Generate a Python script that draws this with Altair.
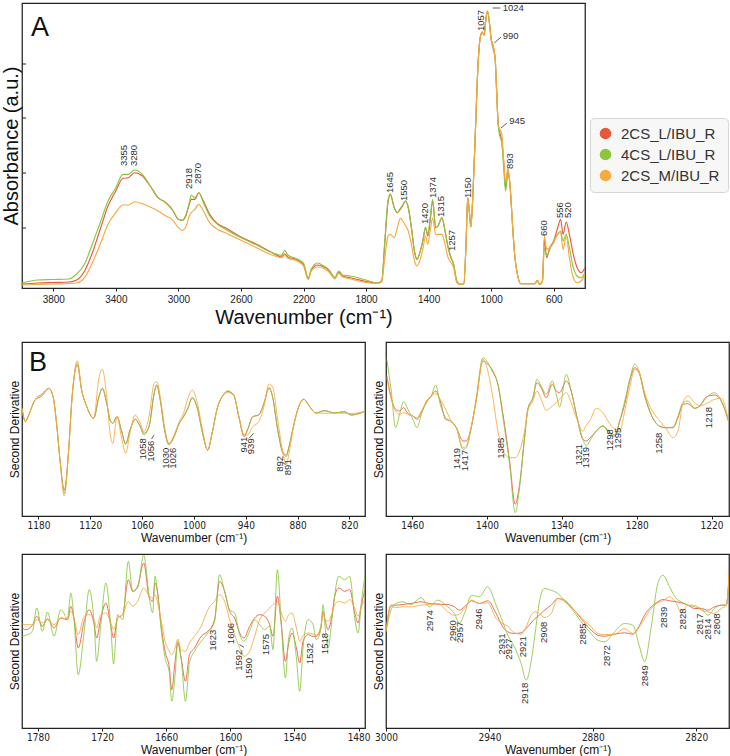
import altair as alt
import pandas as pd

SAMPLES = ["2CS_L/IBU_R", "4CS_L/IBU_R", "2CS_M/IBU_R"]
COLORS = ["#E9573B", "#8CC63F", "#F8A93F"]
FONT = "Liberation Sans, Arial, sans-serif"
NARROW = "Liberation Sans Narrow, Arial Narrow, DejaVu Sans Condensed, sans-serif"
X_TITLE = "Wavenumber (cm\u207b\u00b9)"

# ---------------- Panel A : absorbance spectra ----------------
a_wn = [4000, 3900, 3800, 3700, 3650, 3600, 3550, 3500, 3450, 3400,
        3355, 3320, 3280, 3230, 3180, 3130, 3080, 3040, 3000, 2975,
        2950, 2930, 2918, 2895, 2870, 2840, 2800, 2750, 2700, 2600,
        2500, 2400, 2340, 2320, 2300, 2250, 2200, 2170, 2150, 2110,
        2070, 2040, 2010, 2000, 1975, 1950, 1900, 1800, 1730, 1700,
        1680, 1660, 1645, 1620, 1600, 1580, 1565, 1550, 1530, 1510,
        1490, 1475, 1450, 1435, 1420, 1405, 1390, 1374, 1355, 1340,
        1315, 1295, 1275, 1257, 1240, 1220, 1200, 1175, 1160, 1150,
        1140, 1130, 1115, 1100, 1085, 1070, 1057, 1045, 1035, 1024,
        1010, 1000, 990, 975, 965, 955, 945, 932, 920, 908,
        893, 880, 865, 850, 830, 810, 720, 705, 690, 672,
        660, 645, 625, 600, 575, 556, 540, 520, 500, 475,
        450, 425, 400]
a_2csl = [1, 2, 2.5, 3, 5, 14, 32.3, 55.7, 79, 94,
          106.7, 107.3, 112.3, 109, 99, 87.3, 82.3, 75.7, 65.7, 64.7,
          70, 81, 85.7, 85.7, 92.3, 84, 70.7, 61.3, 57.3, 48,
          40.7, 32.3, 28, 31.3, 28, 25.7, 20.5, 6, 15, 20,
          18, 15, 8.5, 6.8, 13, 9, 7.3, 3.5, 2, 4,
          42.5, 82.3, 90.7, 77.3, 72.3, 76.7, 80, 84, 77.3, 57.3,
          33, 25.7, 35.7, 45.7, 57.3, 49, 64, 84, 57.3, 59,
          67.3, 54, 37.3, 27.3, 20.7, 4, 0.7, 1.3, 44, 87.3,
          74, 58, 97.3, 157.3, 217.3, 247.3, 253, 250, 264, 274,
          260.7, 245.7, 240.7, 227.3, 194, 160.7, 152.3, 144, 124, 97.3,
          115.7, 100.7, 64, 30.7, 9, 1.3, 1.3, 4.7, 0.7, 4,
          45.7, 27.3, 37.3, 44, 57.3, 65.7, 50.7, 63, 50.7, 30.7,
          17.3, 12.3, 17.3]
a_4csl = [2, 5, 5.5, 6, 11, 21, 41, 62.3, 84, 97.3,
          110.7, 110.7, 115, 110.7, 99, 87.3, 82.3, 75.7, 65.7, 64.7,
          70.7, 82.3, 90, 87.3, 92.3, 82.3, 69, 60.7, 55.7, 47.3,
          40, 32.3, 29.7, 34.7, 30, 26.7, 22, 7, 16, 22,
          19, 15.7, 9, 7.3, 14, 10, 9, 5, 2, 4,
          44, 84, 91.3, 77.3, 72.3, 75.7, 79, 84, 77.3, 57.3,
          34, 25.7, 35.7, 45.7, 58, 50.7, 67.3, 85.7, 57.3, 59,
          67.3, 54, 37.3, 28, 20.7, 4, 0.7, 1.3, 44, 87.3,
          74, 58, 97.3, 157.3, 217.3, 247.3, 252, 250, 264, 274,
          260.7, 245.7, 237.3, 227.3, 194, 160.7, 149, 142, 117, 94,
          110.7, 100.7, 64, 30.7, 9, 1.3, 1.3, 4.7, 0.7, 4,
          37.3, 29, 35.7, 44, 50.7, 54, 44, 50.7, 37.3, 17.3,
          9, 7.3, 12.3]
a_2csm = [0, 0.5, 1, 1.5, 2, 7.3, 22.3, 40.7, 60.7, 72.3,
          80, 80, 83.3, 81.3, 78, 74, 69, 65.7, 57.3, 54.7,
          59, 69, 72.3, 75.7, 80.7, 74, 62.3, 55.7, 52.3, 44.7,
          37.3, 30, 27.3, 30, 26.7, 24.7, 19, 5.5, 14, 18,
          16.5, 13.5, 7.5, 6, 11.5, 8, 6, 2.5, 1.5, 3,
          27.3, 49, 50.7, 47.3, 57.3, 66.7, 64, 60, 54, 40.7,
          24, 19, 27.3, 37.3, 49, 40.7, 54, 67.3, 50.7, 50.7,
          50.7, 40.7, 27.3, 22.3, 17.3, 2.3, 0.7, 1.3, 44, 87.3,
          74, 58, 97.3, 157.3, 217.3, 247.3, 253.3, 250, 264, 274,
          260.7, 245.7, 240.7, 227.3, 194, 160.7, 155.7, 150.7, 124, 102.3,
          115.7, 100.7, 64, 30.7, 9, 1.3, 1.3, 4.7, 0.7, 4,
          49, 35.7, 37.3, 42.3, 50.7, 52.3, 35.7, 49, 27.3, 7.3,
          2.3, 4, 10]
a_ticks = [3800, 3400, 3000, 2600, 2200, 1800, 1400, 1000, 600]
a_yticks = [57, 112, 167, 221]
a_lab = ["3355", "3280", "2918", "2870", "1645", "1550", "1420", "1374", "1315",
         "1257", "1150", "1057", "893", "660", "556", "520"]
a_lab_x = [3350, 3282, 2934, 2877, 1647, 1556, 1423, 1372, 1318, 1251, 1150, 1065, 880, 660, 560, 509]
a_lab_y = [119, 119, 96, 101, 92, 84, 61, 87, 68, 34, 87, 254, 116, 49, 67, 67]
a_hlab = ["1024", "990", "945"]
a_hlab_x = [926, 926, 884]
a_hlab_y = [276.7, 249.5, 163.7]
a_lead_x1 = [990, 980, 937]
a_lead_x2 = [942, 937, 899]
a_lead_y1 = [277, 242, 157]
a_lead_y2 = [277, 248, 162]

# ---------------- Panel B, top-left (1200-800) ----------------
tl_wn = [1199, 1195, 1192, 1184, 1176, 1168, 1163, 1159, 1155, 1150,
         1145, 1141, 1135, 1130, 1124, 1116, 1110, 1106, 1101, 1097,
         1094, 1089, 1084, 1079, 1074, 1068, 1062, 1058, 1052, 1046,
         1043, 1039, 1034, 1029, 1023, 1017, 1012, 1007, 1002, 996,
         990, 984, 979, 973, 966, 961, 954, 948, 942, 938,
         932, 925, 919, 913, 909, 903, 897, 893, 890, 884,
         878, 873, 866, 859, 849, 837, 826, 818, 802]
tl_2csl = [20.7, 7.3, 12.3, 29, 33, 40.7, 32.3, 5.7, -31, -61,
           -21, 32.3, 64, 39, 22.3, 10.7, 32.3, 40.7, 25.7, 9,
           5.7, 12.3, -1, -15, -1, 9.7, 2.3, -4.3, 2.3, 35.7,
           44, 29, -1, -15, -7.7, 5.7, 12.3, 20.7, 31.5, 20.7,
           -4.3, -21, -4.3, 20.7, 34, 37.5, 34, 12.3, -7.7, -1,
           12.3, 14, 25.7, 41.3, 32.3, -1, -24, -26, -17.7, 5.7,
           24, 29.7, 22.3, 16, 18.3, 16, 17.3, 14, 17.7]
tl_4csl = [20.7, 7.3, 12.3, 29, 35, 40.7, 32.3, 5.7, -31, -64.3,
           -21, 32.3, 66, 39, 22.3, 10.7, 32.3, 40.7, 25.7, 9,
           5.7, 12.3, -1, -15, -1, 9.7, 2.3, -6, 2.3, 35.7,
           44, 29, -1, -16, -7.7, 5.7, 12.3, 20.7, 30.7, 20.7,
           -4.3, -21, -4.3, 20.7, 34, 38.3, 34, 12.3, -6, -1,
           12.3, 14, 25.7, 40.7, 32.3, -1, -22.7, -27.7, -17.7, 5.7,
           24, 29.7, 22.3, 16, 18.3, 16, 17.3, 14, 17.7]
tl_2csm = [20.7, 7.3, 12.3, 29, 35, 40.7, 32.3, 5.7, -31, -67,
           -21, 32.3, 68.3, 39, 22.3, 10.7, 50.7, 59.7, 32.3, -4.3,
           -14.3, 12.3, -7.7, -24.3, -4.3, 14, 5.7, -2.7, 12.3, 45.7,
           47.3, 32.3, 2.3, -14.3, -6, 7.3, 15.7, 30.7, 39, 25.7,
           -1, -21, -4.3, 20.7, 34, 36.3, 34, 12.3, -6, -6,
           2.3, 7.3, 22.3, 45, 42.3, 9, -24, -36, -24.3, 5.7,
           24, 29.7, 22.3, 16, 15.7, 16, 15.7, 15.5, 17.7]
tl_ticks = [1180, 1120, 1060, 1000, 940, 880, 820]
tl_lab = ["1058", "1056", "1030", "1026", "941", "939", "892", "891"]
tl_lab_x = [1058.7, 1049.5, 1032.8, 1023.9, 942.6, 934.1, 900.1, 890.8]
tl_lab_y = [-9.3, -11.7, -18.7, -18.7, -7.7, -9.3, -27, -30.3]
tl_lead_x1 = [1049.1, 936.1, 898.5]
tl_lead_x2 = [1046.2, 931.0, 894.0]
tl_lead_y1 = [-10, -9.3, -32.7]
tl_lead_y2 = [-6, -4.3, -35.5]

# ---------------- Panel B, top-right (1480-1206) ----------------
tr_wn = [1480.3, 1476.8, 1473.3, 1470.1, 1466.9, 1463.4, 1459.4, 1456.2, 1452.7, 1448.7,
         1444.7, 1441.2, 1437.5, 1433.2, 1429.4, 1424.6, 1419.3, 1416.6, 1412.6, 1408.6,
         1403.3, 1399.3, 1395.3, 1391.3, 1387.2, 1381.9, 1377.4, 1373.9, 1369.9, 1367.3,
         1363.2, 1360, 1356.6, 1352.5, 1347.7, 1344.5, 1341.8, 1336.5, 1332.5, 1328.4,
         1323.1, 1320.4, 1317.7, 1312.4, 1307, 1302.2, 1297.6, 1293.6, 1289.6, 1285.6,
         1281.6, 1278.1, 1273.6, 1269.6, 1264.8, 1260.2, 1256.2, 1250.9, 1246.9, 1242.9,
         1238.9, 1233.6, 1229.5, 1224.2, 1217.5, 1212.2, 1206]
tr_2csl = [53, 31.3, 19.7, 18, 21.3, 15.3, 13, 9.7, 16.3, 26.3,
           33, 38, 28, 9.7, 8, 1.3, -12, -12, 2, 29.7,
           68, 64.7, 58, 44.7, 14.7, -32, -75.3, -55.3, -8.7, 19.7,
           31.3, 46.3, 41.3, 31.3, 44.7, 38, 36.3, 48, 38, 14.7,
           -10.3, -12, -9.3, -2, 3, -3.7, -7, 8, 24.7, 48,
           61.3, 56.3, 33, 18, 6.3, 2, 1.3, 1.3, 11.3, 24.7,
           25.3, 20.7, 23, 32, 34, 28, 6.3]
tr_4csl = [69.7, 38, 1.3, 14.7, 27.3, 19.7, 9.7, 1.3, 14.7, 28,
           33, 44, 24.7, 11.3, 8, 1.3, -20.3, -18.7, 1.3, 31.3,
           71.3, 66.3, 56.3, 44.7, 11.3, -35.3, -83.7, -58.7, -8.7, 19.7,
           31.3, 49.7, 43, 34.7, 48, 34.7, 22, 54.7, 38, 14.7,
           -10.3, -17, -12, -2, 3, -2, -6, 8, 28, 49.7,
           64.7, 58, 34.7, 18, 6.3, 2, 1.3, 2, 13, 26.3,
           28, 20.7, 23, 31.3, 36.3, 28, 6.3]
tr_2csm = [51.3, 29.7, 18, 14.7, 16.3, 14.7, 13, 11.3, 18, 26.3,
           33, 35.3, 29.7, 19.7, 9.7, 1.3, -18.7, -17, 3, 28,
           69.7, 58, 31.3, -2, -22, -28.7, -28.7, -22, -2, 18,
           28, 38, 29.7, 18.7, 23, 26.3, 29.7, 36.3, 26.3, 11.3,
           -2, 4, 8, 20.7, 16.3, 6.3, 0, -2, 18, 41.3,
           59.7, 56.3, 36.3, 23, 13, 6.3, 0, -8.7, -2, 26.3,
           33, 26.3, 23, 25.3, 29.7, 30.7, 6.3]
tr_ticks = [1460, 1400, 1340, 1280, 1220]
tr_lab = ["1419", "1417", "1385", "1321", "1319", "1298", "1295", "1258", "1218"]
tr_lab_x = [1424.1, 1418, 1388.6, 1326.2, 1320.6, 1301.7, 1294.9, 1262, 1221.9]
tr_lab_y = [-19, -21, -8.7, -15.3, -18, -0.3, 1.3, -3.7, 22]

# ---------------- Panel B, bottom-left (1795-1474) ----------------
bl_wn = [1794.7, 1791.5, 1785.3, 1781.2, 1775.9, 1771.2, 1765, 1758.7, 1752.4, 1749.3,
         1746.2, 1742.4, 1736.8, 1732.1, 1727.4, 1725.2, 1721.2, 1716.5, 1711.8, 1709.3,
         1705.5, 1700.8, 1695.5, 1691.4, 1686.8, 1681.1, 1675.8, 1672.7, 1670.5,
         1668, 1664.9, 1661.1, 1657.1, 1654.9, 1651.7, 1649.2, 1646.1, 1642, 1638.3,
         1633.6, 1627.3, 1621.1, 1614.8, 1610.1, 1605.4, 1600.7, 1596, 1591.3, 1587.3,
         1582, 1577.3, 1572.6, 1567.9, 1563.2, 1560.1, 1556, 1552.3, 1548.5, 1545.4,
         1542.3, 1538.2, 1535.1, 1532, 1527.3, 1522.6, 1519.5, 1515.4, 1513.2, 1511.1,
         1508.6, 1504.8, 1502.3, 1498.6, 1493, 1488.3, 1483.6, 1480.5, 1477.3, 1474.2]
bl_2csl = [13, 11.3, 15.7, 24.7, 14.7, 22.3, 13, 23, 21.3, 34.7,
           21.3, -7, 19.7, 31.3, 16.3, 3, 23, 38, 14.7, 3,
           23, 26.3, 61.3, 49.7, 54.7, 78, 43, 39.7, 58,
           48, 16.3, -10.3, -27, -48.7, -20.3, -2, -17, -40.3, -13.7,
           -7, 4.7, 9.7, 21.3, 59.7, 49.7, 29.7, 23, 8, 3,
           14.7, 23, 26.3, 24.7, 16.3, 4.7, 44.7, 16.3, -20.3, -2,
           8, -7, -22, -0.3, 6.3, 4.7, 4.7, 13, 29.7, 19.7,
           11.3, 26.3, 44.7, 53, 49.7, 51.3, 28, 18, 36.3, 51.3]
bl_4csl = [4.7, 5.7, 9.7, 33, 9.7, 29, 4.7, 31.3, 23, 48,
           19.7, -33.7, 9.7, 51.3, 16.3, -20.3, 16.3, 58, 13, -23,
           26.3, 21.3, 79.7, 49.7, 53, 86, 43, 28, 64.7,
           46.3, 13, -17, -32, -60.3, -33.7, 0, -17, -60.3, -22,
           -10.3, -0.3, 8, 19.7, 66.3, 49.7, 31.3, 28, 6.3, -0.3,
           9.7, 21.3, 16.3, 11.3, 14.7, -8.7, 71.3, 16.3, -37, 3,
           13, -17, -50.3, -7, 21.3, 16.3, 1.3, 11.3, 36.3, 11.3,
           -7, 23, 46.3, 64.7, 61.3, 64.7, 23, 8, 39.7, 64.7]
bl_2csm = [17, 16.3, 16.3, 21.3, 18, 21.3, 16.3, 23, 22.3, 29.7,
           22.3, 6.3, 24.7, 26.3, 21.3, 13, 26.3, 28, 18, 11.3,
           23, 26.3, 39.7, 34.7, 39.7, 53, 44.7, 43, 46.3,
           38, 21.3, -0.3, -10.3, -13.7, -7, 2, -8.7, -10.3, -2,
           4.7, 14.7, 31.3, 39.7, 46.3, 39.7, 21.3, 6.3, -7, -15.3,
           -10.3, 4.7, 21.3, 28, 33, 36.3, 39.7, 28, 19.7, 26.3,
           28, 13, -0.3, 5.7, 8, 7, 6, 14.7, 26.3, 21.3,
           19.7, 28, 36.3, 39.7, 38, 41.3, 33, 24.7, 34.7, 41.3]
bl_ticks = [1780, 1720, 1660, 1600, 1540, 1480]
bl_lab = ["1623", "1606", "1592", "1590", "1575", "1532", "1518"]
bl_lab_x = [1616.4, 1599.2, 1592, 1583, 1566.3, 1525.7, 1511]
bl_lab_y = [11.3, 18, -8.7, -17, 7, -2, 8]
bl_lead_x1 = [1591.4]
bl_lead_x2 = [1587.3]
bl_lead_y1 = [-3.7]
bl_lead_y2 = [-6.3]

# ---------------- Panel B, bottom-right (3000-2801) ----------------
br_wn = [3000, 2997.1, 2994.2, 2990.3, 2985.5, 2979.7, 2974.8, 2970, 2964.2, 2960.3,
         2957.4, 2954.5, 2950.3, 2945.8, 2941, 2936.1, 2932.3, 2929.4, 2925.5, 2921.6,
         2918.7, 2915.8, 2913.5, 2911, 2908.1, 2904.2, 2900.3, 2896.5, 2891.6, 2886.8,
         2881.9, 2877.1, 2873.2, 2867.4, 2861.6, 2856.8, 2852.9, 2850, 2846.1, 2842.3,
         2839.4, 2835.5, 2831.6, 2828.7, 2824.8, 2821, 2817.1, 2813.2, 2809.4, 2805.5,
         2802.6, 2800.6]
br_2csl = [10.2, 35.8, 35.8, 36.5, 37.5, 39.2, 37.5, 36.8, 36.5, 34.2,
           30.8, 34.2, 40.2, 37.5, 40.2, 27.5, 14.2, 9.2, 7.5, 8.2,
           12.5, 18.2, 22.5, 25.8, 30.8, 35.8, 42.5, 40.8, 32.5, 22.5,
           12.5, 5.8, 4.8, 6.8, 8.2, 6.8, 15.8, 25.8, 34.2, 39.2,
           41.5, 40.2, 39.2, 38.2, 35.8, 32.5, 32.5, 30.8, 34.2, 35.8,
           35.8, 75.8]
br_4csl = [9.2, 30.8, 37.5, 39.2, 36.5, 43.5, 34.2, 40.8, 34.2, 27.5,
           17.5, 27.5, 45.8, 44.2, 54.2, 35.8, 19.2, 5.8, -5.8, -22.5,
           -39.2, -20.8, 7.5, 39.2, 52.5, 50.8, 47.5, 40.8, 30.8, 19.2,
           9.2, 0.8, -0.8, 9.2, 17.5, 15.8, -5.8, -20.8, 14.2, 57.5,
           65.8, 54.2, 42.5, 39.2, 35.8, 34.2, 32.5, 25.8, 32.5, 35.8,
           35.8, 75.8]
br_2csm = [10.2, 34.2, 33.5, 34.2, 34.2, 35.8, 36.5, 37.5, 29.2, 25.8,
           26.8, 32.5, 40.8, 37.5, 38.2, 22.5, 17.5, 14.8, 8.2, 6.8,
           14.2, 25.8, 29.2, 27.5, 23.5, 27.5, 42.5, 39.2, 32.5, 23.5,
           15.8, 7.5, 6.5, 6.8, 12.5, 7.5, 14.2, 22.5, 32.5, 38.2,
           40.2, 44.2, 37.5, 28.2, 35.8, 35.8, 30.8, 29.2, 27.5, 32.5,
           35.8, 77.5]
br_ticks = [3000, 2940, 2880, 2820]
br_lab = ["2974", "2960", "2957", "2946", "2931", "2927", "2921", "2918", "2908",
          "2885", "2872", "2849", "2839", "2828", "2817", "2814", "2808"]
br_lab_x = [2974.3, 2961.3, 2956.8, 2946.2, 2932.8, 2928.4, 2920.6, 2919.1, 2908.1,
            2885.8, 2871.7, 2850, 2838.8, 2827.4, 2818.1, 2813.2, 2808]
br_lab_y = [30.8, 20.8, 19.2, 32.5, 7.5, 2.5, 4.8, -41.8, 19.2,
            17.5, -4.2, -24.2, 34.2, 32.5, 27.5, 22.5, 27.5]

# ---------------- helpers ----------------
color_scale = alt.Scale(domain=SAMPLES, range=COLORS)


def long_df(wn, red, green, orange):
    rows = []
    for name, vals in zip(SAMPLES, (red, green, orange)):
        for w, v in zip(wn, vals):
            rows.append({"wn": w, "val": v, "sample": name})
    return pd.DataFrame(rows)


def xenc(xs, axis, field="wn:Q"):
    return alt.X(field, scale=xs, axis=axis)


def yenc(ys, axis, field="val:Q"):
    return alt.Y(field, scale=ys, axis=axis)


def spectrum_layers(df, xs, ys, xaxis, yaxis, width, opacity, legend):
    out = []
    for name in SAMPLES:
        out.append(
            alt.Chart(df)
            .transform_filter(alt.datum.sample == name)
            .mark_line(interpolate="monotone", strokeWidth=width, opacity=opacity, clip=True)
            .encode(
                x=xenc(xs, xaxis),
                y=yenc(ys, yaxis),
                color=alt.Color("sample:N", scale=color_scale, legend=legend),
            )
        )
    return out


def text_layer(texts, tx, ty, xs, ys, xaxis, yaxis, align, angle):
    df = pd.DataFrame({"t": texts, "wn": tx, "val": ty})
    return alt.Chart(df).mark_text(
        angle=angle, align=align, baseline="middle", fontSize=9.5, font=FONT, color="#333"
    ).encode(x=xenc(xs, xaxis), y=yenc(ys, yaxis), text="t:N")


def leader_layer(x1, x2, y1, y2, xs, ys, xaxis, yaxis):
    df = pd.DataFrame({"wn": x1, "wn2": x2, "val": y1, "val2": y2})
    return alt.Chart(df).mark_rule(color="#333", strokeWidth=0.8).encode(
        x=xenc(xs, xaxis), x2="wn2:Q", y=yenc(ys, yaxis), y2="val2:Q"
    )


def letter_layer(letter, px, py):
    return alt.Chart(pd.DataFrame({"t": [letter]})).mark_text(
        align="left", baseline="alphabetic", fontSize=27, font=FONT, color="#111"
    ).encode(text="t:N", x=alt.value(px), y=alt.value(py))


# ---------------- Panel A chart ----------------
xsA = alt.Scale(domain=[400, 4000], reverse=True, nice=False, zero=False)
ysA = alt.Scale(domain=[-3, 282], nice=False, zero=False)
axA_x = alt.Axis(values=a_ticks, format="d", title=X_TITLE, titleFontSize=20, labelFontSize=10,
                 tickSize=3, labelPadding=3, titlePadding=3, labelFlush=False)
axA_y = alt.Axis(title="Absorbance (a.u.)", labels=False, ticks=False, titleFontSize=20, titlePadding=1)
legA = alt.Legend(
    title=None, orient="none", legendX=568, legendY=115,
    symbolType="circle", symbolSize=135, symbolStrokeWidth=0, symbolOpacity=1,
    labelFontSize=15, labelFont=FONT, labelColor="#333", labelOffset=8,
    rowPadding=5, padding=8, fillColor="#f7f7f6", strokeColor="#d6d6d6",
    cornerRadius=4,
)

dfA = long_df(a_wn, a_2csl, a_4csl, a_2csm)
layersA = spectrum_layers(dfA, xsA, ysA, axA_x, axA_y, 1.15, 1.0, legA)
layersA.append(
    alt.Chart(pd.DataFrame({"sample": SAMPLES, "wn": [2000] * 3, "val": [100] * 3}))
    .transform_filter("datum.val < -1000")
    .mark_circle(size=135, opacity=1)
    .encode(
        x=xenc(xsA, axA_x),
        y=yenc(ysA, axA_y),
        color=alt.Color("sample:N", scale=color_scale, legend=legA),
    )
)
layersA.append(
    alt.Chart(pd.DataFrame({"val": a_yticks})).mark_rule(color="#222", strokeWidth=1).encode(
        y=yenc(ysA, axA_y), x=alt.value(0), x2=alt.value(4)
    )
)
layersA.append(text_layer(a_lab, a_lab_x, a_lab_y, xsA, ysA, axA_x, axA_y, "left", 270))
layersA.append(text_layer(a_hlab, a_hlab_x, a_hlab_y, xsA, ysA, axA_x, axA_y, "left", 0))
layersA.append(leader_layer(a_lead_x1, a_lead_x2, a_lead_y1, a_lead_y2, xsA, ysA, axA_x, axA_y))
layersA.append(letter_layer("A", 9, 33))
chartA = alt.layer(*layersA).properties(width=563, height=285)


# ---------------- Panel B charts ----------------
def b_panel(wn, red, green, orange, domain, ticks, lab, lab_x, lab_y, leaders=None, letter=False):
    xs = alt.Scale(domain=domain, reverse=True, nice=False, zero=False)
    ys = alt.Scale(domain=[-87, 87], nice=False, zero=False)
    xaxis = alt.Axis(values=ticks, format="d", title=X_TITLE, titleFontSize=12, labelFontSize=10,
                     labelFont=NARROW, tickSize=3, labelPadding=1,
                     titlePadding=2, labelFlush=False)
    yaxis = alt.Axis(title="Second Derivative", labels=False, ticks=False, titleFontSize=12, titlePadding=1)
    df = long_df(wn, red, green, orange)
    layers = spectrum_layers(df, xs, ys, xaxis, yaxis, 0.95, 0.9, None)
    layers.append(text_layer(lab, lab_x, lab_y, xs, ys, xaxis, yaxis, "right", 270))
    if leaders is not None:
        layers.append(leader_layer(*leaders, xs, ys, xaxis, yaxis))
    if letter:
        layers.append(letter_layer("B", 7, 29))
    return alt.layer(*layers).properties(width=343, height=174)


TL = b_panel(tl_wn, tl_2csl, tl_4csl, tl_2csm, [802, 1199], tl_ticks, tl_lab, tl_lab_x, tl_lab_y,
             leaders=(tl_lead_x1, tl_lead_x2, tl_lead_y1, tl_lead_y2), letter=True)
TR = b_panel(tr_wn, tr_2csl, tr_4csl, tr_2csm, [1206, 1481], tr_ticks, tr_lab, tr_lab_x, tr_lab_y)
BL = b_panel(bl_wn, bl_2csl, bl_4csl, bl_2csm, [1474, 1795], bl_ticks, bl_lab, bl_lab_x, bl_lab_y,
             leaders=(bl_lead_x1, bl_lead_x2, bl_lead_y1, bl_lead_y2))
BR = b_panel(br_wn, br_2csl, br_4csl, br_2csm, [2801, 3000], br_ticks, br_lab, br_lab_x, br_lab_y)

row2 = alt.hconcat(TL, TR, spacing=21, bounds="flush")
row3 = alt.hconcat(BL, BR, spacing=21, bounds="flush")
lower = alt.vconcat(row2, row3, spacing=9)

chart = (
    alt.vconcat(chartA, lower, spacing=54, bounds="flush")
    .resolve_scale(color="independent")
    .properties(padding={"left": 0, "top": 2, "right": 0, "bottom": 0})
    .configure_axis(grid=False, domain=False, labelColor="#222", titleColor="#111", tickColor="#222",
                    titleFontWeight="normal", labelFont=FONT, titleFont=FONT)
    .configure_view(stroke="#222", strokeWidth=1.25)
)

chart.save("out.html", embed_options={"renderer": "svg", "actions": False})
